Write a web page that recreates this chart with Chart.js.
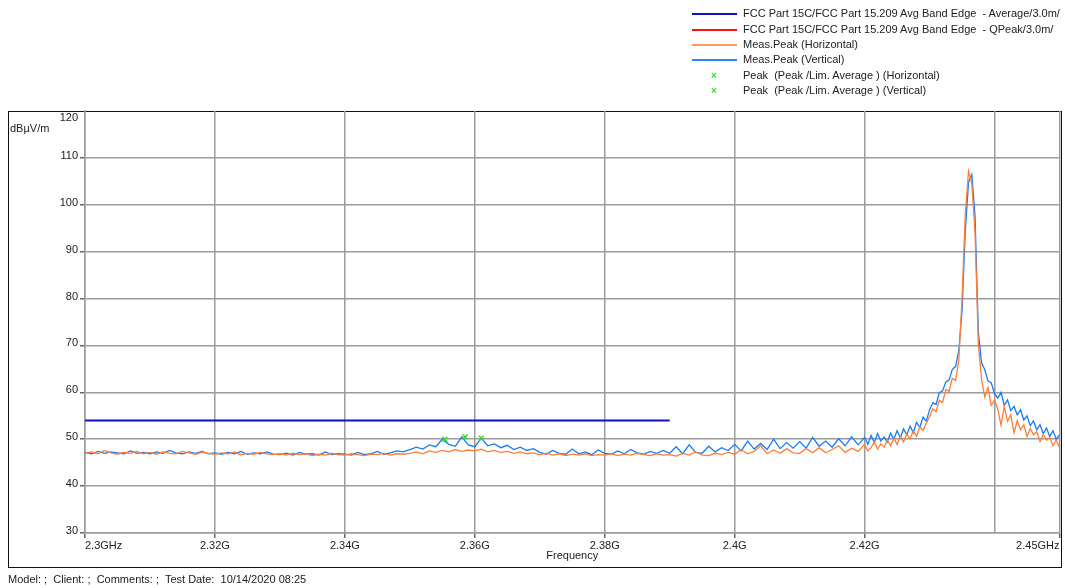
<!DOCTYPE html>
<html>
<head>
<meta charset="utf-8">
<script src="https://cdn.jsdelivr.net/npm/chart.js@4"></script>
<style>
  body { margin: 0; background: #fff; font-family: "Liberation Sans", Arial, sans-serif; }
  #wrap { position: relative; width: 1065px; height: 588px; overflow: hidden; }
  #frame { position: absolute; left: 8px; top: 111px; width: 1054px; height: 457px; border: 1px solid #111; box-sizing: border-box; }
  #chart { position: absolute; left: 0; top: 0; }
  .txt { position: absolute; font-size: 11px; line-height: 13px; color: #222; white-space: pre; }
  .lgline { position: absolute; left: 692px; width: 45px; }
  .lgmark { position: absolute; left: 711px; font-size: 10px; line-height: 10px; font-weight: bold; color: #33dd33; }
</style>
</head>
<body>
<div id="wrap">
  <div id="frame"></div>
  <canvas id="chart" width="1065" height="588"></canvas>
  <div id="legend"></div>
  <div class="txt" style="left:10px; top:122px;">dBµV/m</div>
  <div class="txt" style="left:8px; top:573px;">Model: ;  Client: ;  Comments: ;  Test Date:  10/14/2020 08:25</div>
</div>
<script>
// frequency points (GHz)
const freq = [
  2.300, 2.301, 2.302, 2.303, 2.304, 2.305, 2.306, 2.307, 2.308, 2.309,
  2.310, 2.311, 2.312, 2.313, 2.314, 2.315, 2.316, 2.317, 2.318, 2.319,
  2.320, 2.321, 2.322, 2.323, 2.324, 2.325, 2.326, 2.327, 2.328, 2.329,
  2.330, 2.331, 2.332, 2.333, 2.334, 2.335, 2.336, 2.337, 2.338, 2.339,
  2.340, 2.341, 2.342, 2.343, 2.344, 2.345, 2.346, 2.347, 2.348, 2.349,
  2.350, 2.351, 2.352, 2.353, 2.354, 2.355, 2.356, 2.357, 2.358, 2.359,
  2.360, 2.361, 2.362, 2.363, 2.364, 2.365, 2.366, 2.367, 2.368, 2.369,
  2.370, 2.371, 2.372, 2.373, 2.374, 2.375, 2.376, 2.377, 2.378, 2.379,
  2.380, 2.381, 2.382, 2.383, 2.384, 2.385, 2.386, 2.387, 2.388, 2.389,
  2.390, 2.391, 2.392, 2.393, 2.394, 2.395, 2.396, 2.397, 2.398, 2.399,
  2.400, 2.401, 2.402, 2.403, 2.404, 2.405, 2.406, 2.407, 2.408, 2.409,
  2.410, 2.411, 2.412, 2.413, 2.414, 2.415, 2.416, 2.417, 2.418, 2.419,
  2.4200, 2.4205, 2.4210, 2.4215, 2.4220, 2.4225, 2.4230, 2.4235, 2.4240, 2.4245,
  2.4250, 2.4255, 2.4260, 2.4265, 2.4270, 2.4275, 2.4280, 2.4285, 2.4290, 2.4295,
  2.4300, 2.4305, 2.4310, 2.4315, 2.4320, 2.4325, 2.4330, 2.4335, 2.4340, 2.4345,
  2.4350, 2.4355, 2.4360, 2.4365, 2.4370, 2.4375, 2.4380, 2.4385, 2.4390, 2.4395, 2.4400,
  2.4405, 2.4410, 2.4415, 2.4420, 2.4425, 2.4430, 2.4435, 2.4440, 2.4445, 2.4450,
  2.4455, 2.4460, 2.4465, 2.4470, 2.4475, 2.4480, 2.4485, 2.4490, 2.4495, 2.4500
];

// Meas.Peak (Horizontal), dBµV/m
const peakHorizontal = [
  47.0, 47.3, 46.9, 47.6, 47.1, 46.8, 47.2, 47.0, 47.4, 46.9,
  47.2, 46.8, 47.3, 47.0, 46.9, 47.4, 47.1, 46.8, 47.2, 47.0,
  46.8, 47.1, 46.9, 47.3, 46.7, 47.0, 46.8, 47.2, 46.9, 46.7,
  46.9, 46.6, 47.0, 46.7, 46.9, 46.5, 46.8, 46.6, 47.0, 46.7,
  46.6, 46.9, 46.7, 46.5, 46.8, 46.7, 47.0, 46.6, 46.9, 46.8,
  47.0, 47.3, 46.9, 47.5, 47.2, 47.6, 47.3, 47.8, 47.4, 47.7,
  47.5, 47.9, 47.3, 47.6, 47.2, 47.4, 47.0, 47.3, 46.9, 47.1,
  46.7, 47.0, 46.6, 46.9, 46.5, 46.8, 46.6, 46.9, 46.5, 46.7,
  46.6, 46.9, 46.5, 46.8, 46.6, 47.0, 46.7, 46.5, 46.9, 46.6,
  46.7, 46.4, 47.0, 46.6, 47.3, 46.6, 46.5, 47.0, 46.7, 47.2,
  46.8, 47.8, 46.9, 47.4, 48.6, 46.9, 47.7, 47.0, 48.0, 47.1,
  47.0, 48.0, 47.1, 48.2, 47.1, 47.8, 48.6, 47.2, 48.1, 47.4,
  48.9, 47.5, 48.2, 49.4, 47.9, 49.0, 48.3, 49.8, 48.6, 50.2,
  48.9, 50.6, 49.4, 51.2, 50.1, 51.8, 50.6, 52.6, 51.9, 53.4,
  54.8, 56.5, 55.9, 58.3, 57.8, 60.6, 60.2, 63.0, 62.5, 66.8,
  80.0, 98.0, 107.2, 104.5, 94.0, 70.5, 62.7, 59.0, 61.0, 57.2, 58.4,
  56.4, 53.0, 57.0, 53.8, 55.2, 51.4, 54.0, 52.0, 53.1, 50.6,
  52.3, 50.9, 51.6, 49.5, 51.0, 49.8, 50.4, 48.6, 49.8, 48.2
];

// Meas.Peak (Vertical), dBµV/m
const peakVertical = [
  47.2, 46.9, 47.4, 47.0, 47.3, 47.1, 46.9, 47.5, 47.0, 47.2,
  46.9, 47.3, 47.0, 47.6, 47.1, 46.9, 47.3, 47.0, 47.4, 46.9,
  47.1, 46.8, 47.2, 46.9, 47.4, 46.8, 47.1, 46.9, 47.3, 46.8,
  46.7, 47.0, 46.6, 47.2, 46.8, 46.9, 46.6, 47.3, 46.7, 46.9,
  46.8, 46.6, 47.2, 46.7, 46.9, 47.4, 46.8, 47.1, 47.5, 47.3,
  47.8, 48.3, 47.9, 48.8, 48.4, 50.0, 48.9, 48.5, 50.5, 48.8,
  48.4, 50.2, 48.6, 49.0, 48.2, 48.7, 47.8, 48.3, 47.6, 48.0,
  47.2, 46.8, 47.6, 47.0, 46.8, 47.9, 46.9, 47.3, 46.7, 47.7,
  47.0, 46.8, 47.5, 46.9, 47.8, 47.1, 46.8, 47.4, 47.0, 47.6,
  47.0, 48.4, 46.9, 48.8, 47.2, 47.0, 48.5, 47.3, 48.2, 47.6,
  48.9, 47.5, 49.6, 47.9, 49.1, 47.8, 50.0, 48.0, 49.3, 48.1,
  49.5, 48.1, 50.4, 48.5, 49.6, 48.3, 50.1, 48.6, 50.5, 48.8,
  50.4, 48.9, 50.8, 49.3, 51.2, 49.6, 50.5, 49.4, 51.3, 50.0,
  51.8, 50.3, 52.2, 50.9, 52.8, 51.4, 53.6, 52.5, 54.7, 53.8,
  56.3, 57.8, 57.4, 59.9, 60.3, 62.2, 62.6, 64.9, 65.5, 68.9,
  77.5, 94.5, 104.8, 106.4, 97.5, 73.0, 66.3, 64.8, 62.4, 62.0, 59.7,
  58.8, 60.0, 57.2, 58.4, 56.1, 57.0, 55.2, 56.3, 54.1, 55.0,
  52.9, 53.9, 52.0, 53.1, 51.2, 52.4, 50.6, 51.8, 50.0, 50.9
];

// limit line (Average) and found peaks
const limitFreq = [2.30, 2.39];
const limitAvg = [54, 54];
const markFreqV = [2.3554, 2.3585, 2.3610];
const markLevelV = [50.0, 50.5, 50.2];

const xTicks = [2.30, 2.32, 2.34, 2.36, 2.38, 2.40, 2.42, 2.44, 2.45];
const xTickLabels = ["2.3GHz", "2.32G", "2.34G", "2.36G", "2.38G", "2.4G", "2.42G", "", "2.45GHz"];
const yTicks = [30, 40, 50, 60, 70, 80, 90, 100, 110, 120];

const legendLabels = [
  "FCC Part 15C/FCC Part 15.209 Avg Band Edge  - Average/3.0m/",
  "FCC Part 15C/FCC Part 15.209 Avg Band Edge  - QPeak/3.0m/",
  "Meas.Peak (Horizontal)",
  "Meas.Peak (Vertical)",
  "Peak  (Peak /Lim. Average ) (Horizontal)",
  "Peak  (Peak /Lim. Average ) (Vertical)"
];

const FONT = "'Liberation Sans', Arial, sans-serif";
const GRID = "#9c9c9c";
const NONE = "rgba(0,0,0,0)";

// legend (html)
const legendRows = [14, 30, 45, 60, 76, 91];
const legendStyles = [
  { line: "#1010c0", w: 2 },
  { line: "#ff1010", w: 2 },
  { line: "#ff9a66", w: 1.5 },
  { line: "#2f86f0", w: 1.5 },
  { mark: true },
  { mark: true }
];
const lg = document.getElementById("legend");
legendLabels.forEach((t, i) => {
  const y = legendRows[i];
  const st = legendStyles[i];
  if (st.mark) {
    const m = document.createElement("div");
    m.className = "lgmark";
    m.style.top = (y - 5) + "px";
    m.textContent = "×";
    lg.appendChild(m);
  } else {
    const l = document.createElement("div");
    l.className = "lgline";
    l.style.top = (y - st.w / 2) + "px";
    l.style.height = st.w + "px";
    l.style.background = st.line;
    lg.appendChild(l);
  }
  const d = document.createElement("div");
  d.className = "txt";
  d.style.left = "743px";
  d.style.top = (y - 7) + "px";
  d.textContent = t;
  lg.appendChild(d);
});

const pts = (xs, ys) => xs.map((x, i) => ({ x: x, y: ys[i] }));

const hideTop = c => (c.tick && c.tick.value > 115 ? NONE : GRID);

new Chart(document.getElementById("chart"), {
  type: "line",
  data: {
    datasets: [
      {
        label: legendLabels[5], data: pts(markFreqV, markLevelV), showLine: false,
        pointStyle: "crossRot", pointRadius: 3.5, borderColor: "#33dd33", borderWidth: 1.5, order: 0
      },
      {
        label: legendLabels[4], data: [], showLine: false,
        pointStyle: "crossRot", pointRadius: 3.5, borderColor: "#33dd33", borderWidth: 1.5, order: 0
      },
      { label: legendLabels[0], data: pts(limitFreq, limitAvg), borderColor: "#1010c0", borderWidth: 2, pointRadius: 0, order: 1 },
      { label: legendLabels[1], data: [], borderColor: "#ff1010", borderWidth: 2, pointRadius: 0, order: 1 },
      { label: legendLabels[2], data: pts(freq, peakHorizontal), borderColor: "#ff7f3a", borderWidth: 1.3, pointRadius: 0, tension: 0, order: 2 },
      { label: legendLabels[3], data: pts(freq, peakVertical), borderColor: "#1a7cf5", borderWidth: 1.3, pointRadius: 0, tension: 0, order: 3 }
    ]
  },
  options: {
    responsive: false,
    animation: false,
    layout: { padding: { left: 8, right: 4, top: 111, bottom: 25 } },
    plugins: { legend: { display: false }, tooltip: { enabled: false } },
    scales: {
      x: {
        type: "linear", min: 2.3, max: 2.45,
        afterBuildTicks: s => { s.ticks = xTicks.map(v => ({ value: v })); },
        afterFit: s => { s.height = 30; },
        grid: {
          color: GRID, lineWidth: 1.5, tickLength: 5,
          tickColor: c => (xTickLabels[c.index] === "" ? NONE : "#666")
        },
        border: { color: GRID, width: 1.5 },
        ticks: {
          align: "inner", padding: 1, maxRotation: 0, autoSkip: false, color: "#222",
          font: { family: FONT, size: 11 },
          callback: (v, i) => xTickLabels[i]
        },
        title: { display: true, text: "Frequency", color: "#222", padding: 0, font: { family: FONT, size: 11 } }
      },
      y: {
        min: 30, max: 120,
        afterBuildTicks: s => { s.ticks = yTicks.map(v => ({ value: v === 120 ? 118 : v })); },
        afterFit: s => { s.width = 77; },
        grid: { color: hideTop, lineWidth: 1.5, tickLength: 5, tickColor: c => (c.tick && c.tick.value > 115 ? NONE : "#666") },
        border: { color: GRID, width: 1.5 },
        ticks: {
          padding: 2, labelOffset: -2, color: "#222", autoSkip: false,
          font: { family: FONT, size: 11 },
          callback: (v, i) => String(yTicks[i])
        }
      }
    }
  }
});
</script>
</body>
</html>
